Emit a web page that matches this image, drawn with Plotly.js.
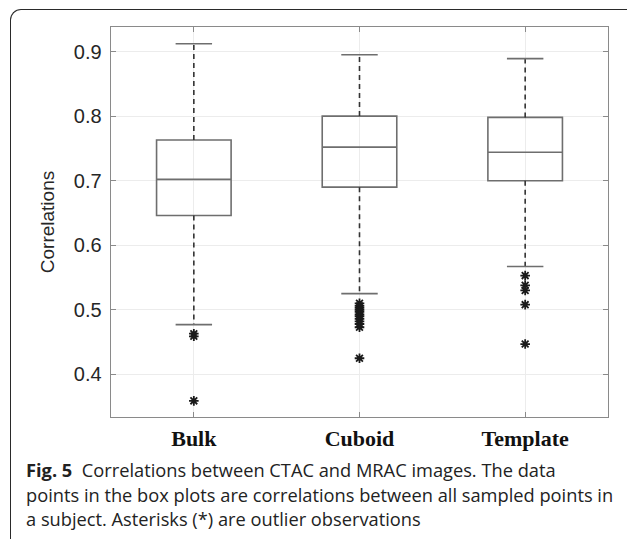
<!DOCTYPE html>
<html>
<head>
<meta charset="utf-8">
<script src="https://cdn.plot.ly/plotly-3.0.1.min.js"></script>
<style>
  html, body { margin: 0; padding: 0; background: #fff; }
  #wrap { position: relative; width: 627px; height: 539px; overflow: hidden; }
  #chart { position: absolute; left: 0; top: 0; width: 627px; height: 539px; }
  #frame { position: absolute; left: 10px; top: 9px; width: 700px; height: 600px;
           border-top: 1.5px solid #2a2a2a; border-left: 1.5px solid #2a2a2a;
           border-top-left-radius: 11px; pointer-events: none; z-index: 5; }
  #caption { position: absolute; left: 26px; top: 458px; width: 600px; z-index: 6;
             font-family: "Open Sans", sans-serif; font-size: 18.25px; line-height: 24.5px;
             color: #222; letter-spacing: 0px; white-space: nowrap; }
  #caption b { font-weight: 700; }
</style>
</head>
<body>
<div id="wrap">
  <div id="chart"></div>
  <div id="frame"></div>
  <div id="caption"><b>Fig. 5</b>&nbsp; Correlations between CTAC and MRAC images. The data<br>points in the box plots are correlations between all sampled points in<br>a subject. Asterisks (*) are outlier observations</div>
</div>
<script>
// ---- data ----
const categories = ["Bulk", "Cuboid", "Template"];
const q1Values = [0.646, 0.690, 0.700];
const medianValues = [0.702, 0.752, 0.744];
const q3Values = [0.763, 0.800, 0.798];
const lowerWhisker = [0.477, 0.525, 0.567];
const upperWhisker = [0.912, 0.895, 0.889];
const outliersBulk = [0.463, 0.459, 0.359];
const outliersCuboid = [0.510, 0.506, 0.503, 0.500, 0.497, 0.493, 0.490, 0.486, 0.482, 0.478, 0.473, 0.425];
const outliersTemplate = [0.553, 0.538, 0.530, 0.508, 0.447];
const yTickValues = [0.4, 0.5, 0.6, 0.7, 0.8, 0.9];

// ---- styles ----
const boxColor = "#6e6e6e";
const whiskerColor = "#333333";
const capHalf = 0.11;
const pos = categories.map((c, i) => i + 1);

const traces = [];

// boxes (no whiskers of their own)
traces.push({
  type: "box",
  x: pos,
  q1: q1Values,
  median: medianValues,
  q3: q3Values,
  lowerfence: q1Values,
  upperfence: q3Values,
  width: 0.45,
  whiskerwidth: 0,
  boxpoints: false,
  fillcolor: "rgba(0,0,0,0)",
  line: { color: boxColor, width: 1.6 },
  hoverinfo: "skip"
});

// dashed whiskers
const wx = [], wy = [];
pos.forEach((p, i) => {
  wx.push(p, p, null, p, p, null);
  wy.push(q3Values[i], upperWhisker[i], null, q1Values[i], lowerWhisker[i], null);
});
traces.push({
  type: "scatter", mode: "lines", x: wx, y: wy,
  line: { color: whiskerColor, width: 1.6, dash: "5px,4px" },
  hoverinfo: "skip"
});

// whisker caps
const cx = [], cy = [];
pos.forEach((p, i) => {
  cx.push(p - capHalf, p + capHalf, null, p - capHalf, p + capHalf, null);
  cy.push(upperWhisker[i], upperWhisker[i], null, lowerWhisker[i], lowerWhisker[i], null);
});
traces.push({
  type: "scatter", mode: "lines", x: cx, y: cy,
  line: { color: boxColor, width: 1.6 },
  hoverinfo: "skip"
});

// outliers
const outlierSets = [outliersBulk, outliersCuboid, outliersTemplate];
const ox = [], oy = [];
outlierSets.forEach((set, i) => set.forEach(v => { ox.push(pos[i]); oy.push(v); }));
traces.push({
  type: "scatter", mode: "markers", x: ox, y: oy,
  marker: { symbol: "asterisk-open", size: 8, color: "#1a1a1a", line: { color: "#1a1a1a", width: 1.8 } },
  hoverinfo: "skip"
});

const layout = {
  width: 627, height: 539,
  margin: { l: 111, r: 19, t: 27, b: 122, pad: 0 },
  paper_bgcolor: "#ffffff", plot_bgcolor: "#ffffff",
  showlegend: false,
  xaxis: {
    range: [0.5, 3.5],
    tickvals: pos, ticktext: categories,
    ticks: "inside", ticklen: 5, tickcolor: "#8a8a8a", tickwidth: 1,
    showline: true, linecolor: "#8a8a8a", linewidth: 1.4, mirror: "ticks",
    showgrid: true, gridcolor: "#ececec", gridwidth: 1, zeroline: false,
    tickfont: { family: "Liberation Serif, serif", size: 22, color: "#111", weight: "bold" },
    ticklabelstandoff: 1
  },
  yaxis: {
    range: [0.334, 0.938],
    tickvals: yTickValues,
    ticks: "inside", ticklen: 5, tickcolor: "#8a8a8a", tickwidth: 1,
    showline: true, linecolor: "#8a8a8a", linewidth: 1.4, mirror: "ticks",
    showgrid: true, gridcolor: "#ececec", gridwidth: 1, zeroline: false,
    tickfont: { family: "Liberation Sans, Arial, sans-serif", size: 20, color: "#262626" },
    ticklabelstandoff: 4,
    title: { text: "Correlations", font: { family: "Liberation Sans, Arial, sans-serif", size: 19, color: "#262626" }, standoff: 14 }
  }
};

Plotly.newPlot("chart", traces, layout, { staticPlot: true, displayModeBar: false });
</script>
</body>
</html>
